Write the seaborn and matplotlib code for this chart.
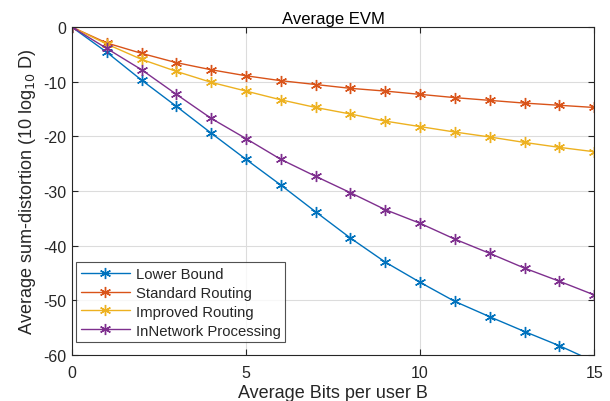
import numpy as np
import pandas as pd
import matplotlib
matplotlib.use("Agg")
import matplotlib.pyplot as plt
import seaborn as sns

bits = list(range(16))
lower_bound = [0, -4.6, -9.7, -14.5, -19.4, -24.2, -28.9, -33.8, -38.6, -43.0, -46.7, -50.2, -53.0, -55.7, -58.3, -61.2]
standard_routing = [0, -2.9, -4.8, -6.5, -7.8, -8.9, -9.8, -10.5, -11.2, -11.7, -12.3, -12.9, -13.4, -13.9, -14.3, -14.7]
improved_routing = [0, -3.1, -5.9, -8.1, -10.1, -11.7, -13.3, -14.7, -15.9, -17.2, -18.2, -19.2, -20.1, -21.1, -22.0, -22.8]
innetwork = [0, -3.9, -7.8, -12.3, -16.7, -20.4, -24.2, -27.3, -30.3, -33.4, -35.9, -38.8, -41.4, -44.1, -46.5, -49.0]
series_names = ["Lower Bound", "Standard Routing", "Improved Routing", "InNetwork Processing"]
colors = ["#0072BD", "#D95319", "#EDB120", "#7E2F8E"]

sns.set_theme(style="white")
plt.rcParams['font.family'] = ['Liberation Sans', 'DejaVu Sans']
plt.rcParams['axes.unicode_minus'] = False

rows = []
for name, vals in zip(series_names, [lower_bound, standard_routing, improved_routing, innetwork]):
    for b, v in zip(bits, vals):
        rows.append({"B": b, "D": v, "series": name})
df = pd.DataFrame(rows)

fig = plt.figure(figsize=(6.10, 4.02), dpi=100)
ax = fig.add_axes([0.118, 0.1144, 0.856, 0.8156])
star = (6, 2, 0)
for name, c in zip(series_names, colors):
    sub = df[df.series == name]
    sns.lineplot(data=sub, x="B", y="D", ax=ax, color=c, marker=star, markersize=8,
                 markeredgecolor=c, markeredgewidth=1.0, linewidth=1.0, label=name)

ax.set_xlim(0, 15)
ax.set_ylim(-60, 0)
ax.set_xticks([0, 5, 10, 15])
ax.set_yticks([-60, -50, -40, -30, -20, -10, 0])
ax.grid(True, color="#dcdcdc", linewidth=0.8)
ax.set_axisbelow(True)
for s in ax.spines.values():
    s.set_color("#262626")
    s.set_linewidth(0.8)
ax.tick_params(direction="in", length=4, width=0.8, colors="#262626", labelsize=11.5,
               top=True, right=True, bottom=True, left=True)
ax.tick_params(axis="x", pad=7)
ax.tick_params(axis="y", pad=4)
ax.set_xlabel("Average Bits per user B", fontsize=13, color="#262626", labelpad=3)
ax.set_ylabel("Average sum-distortion (10 log$_{10}$ D)", fontsize=13, color="#262626", labelpad=4)
ax.set_title("Average EVM", fontsize=12, color="#000000", pad=3)

leg = ax.legend(loc="lower left", bbox_to_anchor=(0.0, 0.026), fontsize=10.7, frameon=True,
                fancybox=False, edgecolor="#262626", borderpad=0.3, labelspacing=0.33,
                handlelength=3.3, handletextpad=0.4, borderaxespad=0.3)
leg.get_frame().set_linewidth(0.8)

fig.savefig("out.png", dpi=100)
